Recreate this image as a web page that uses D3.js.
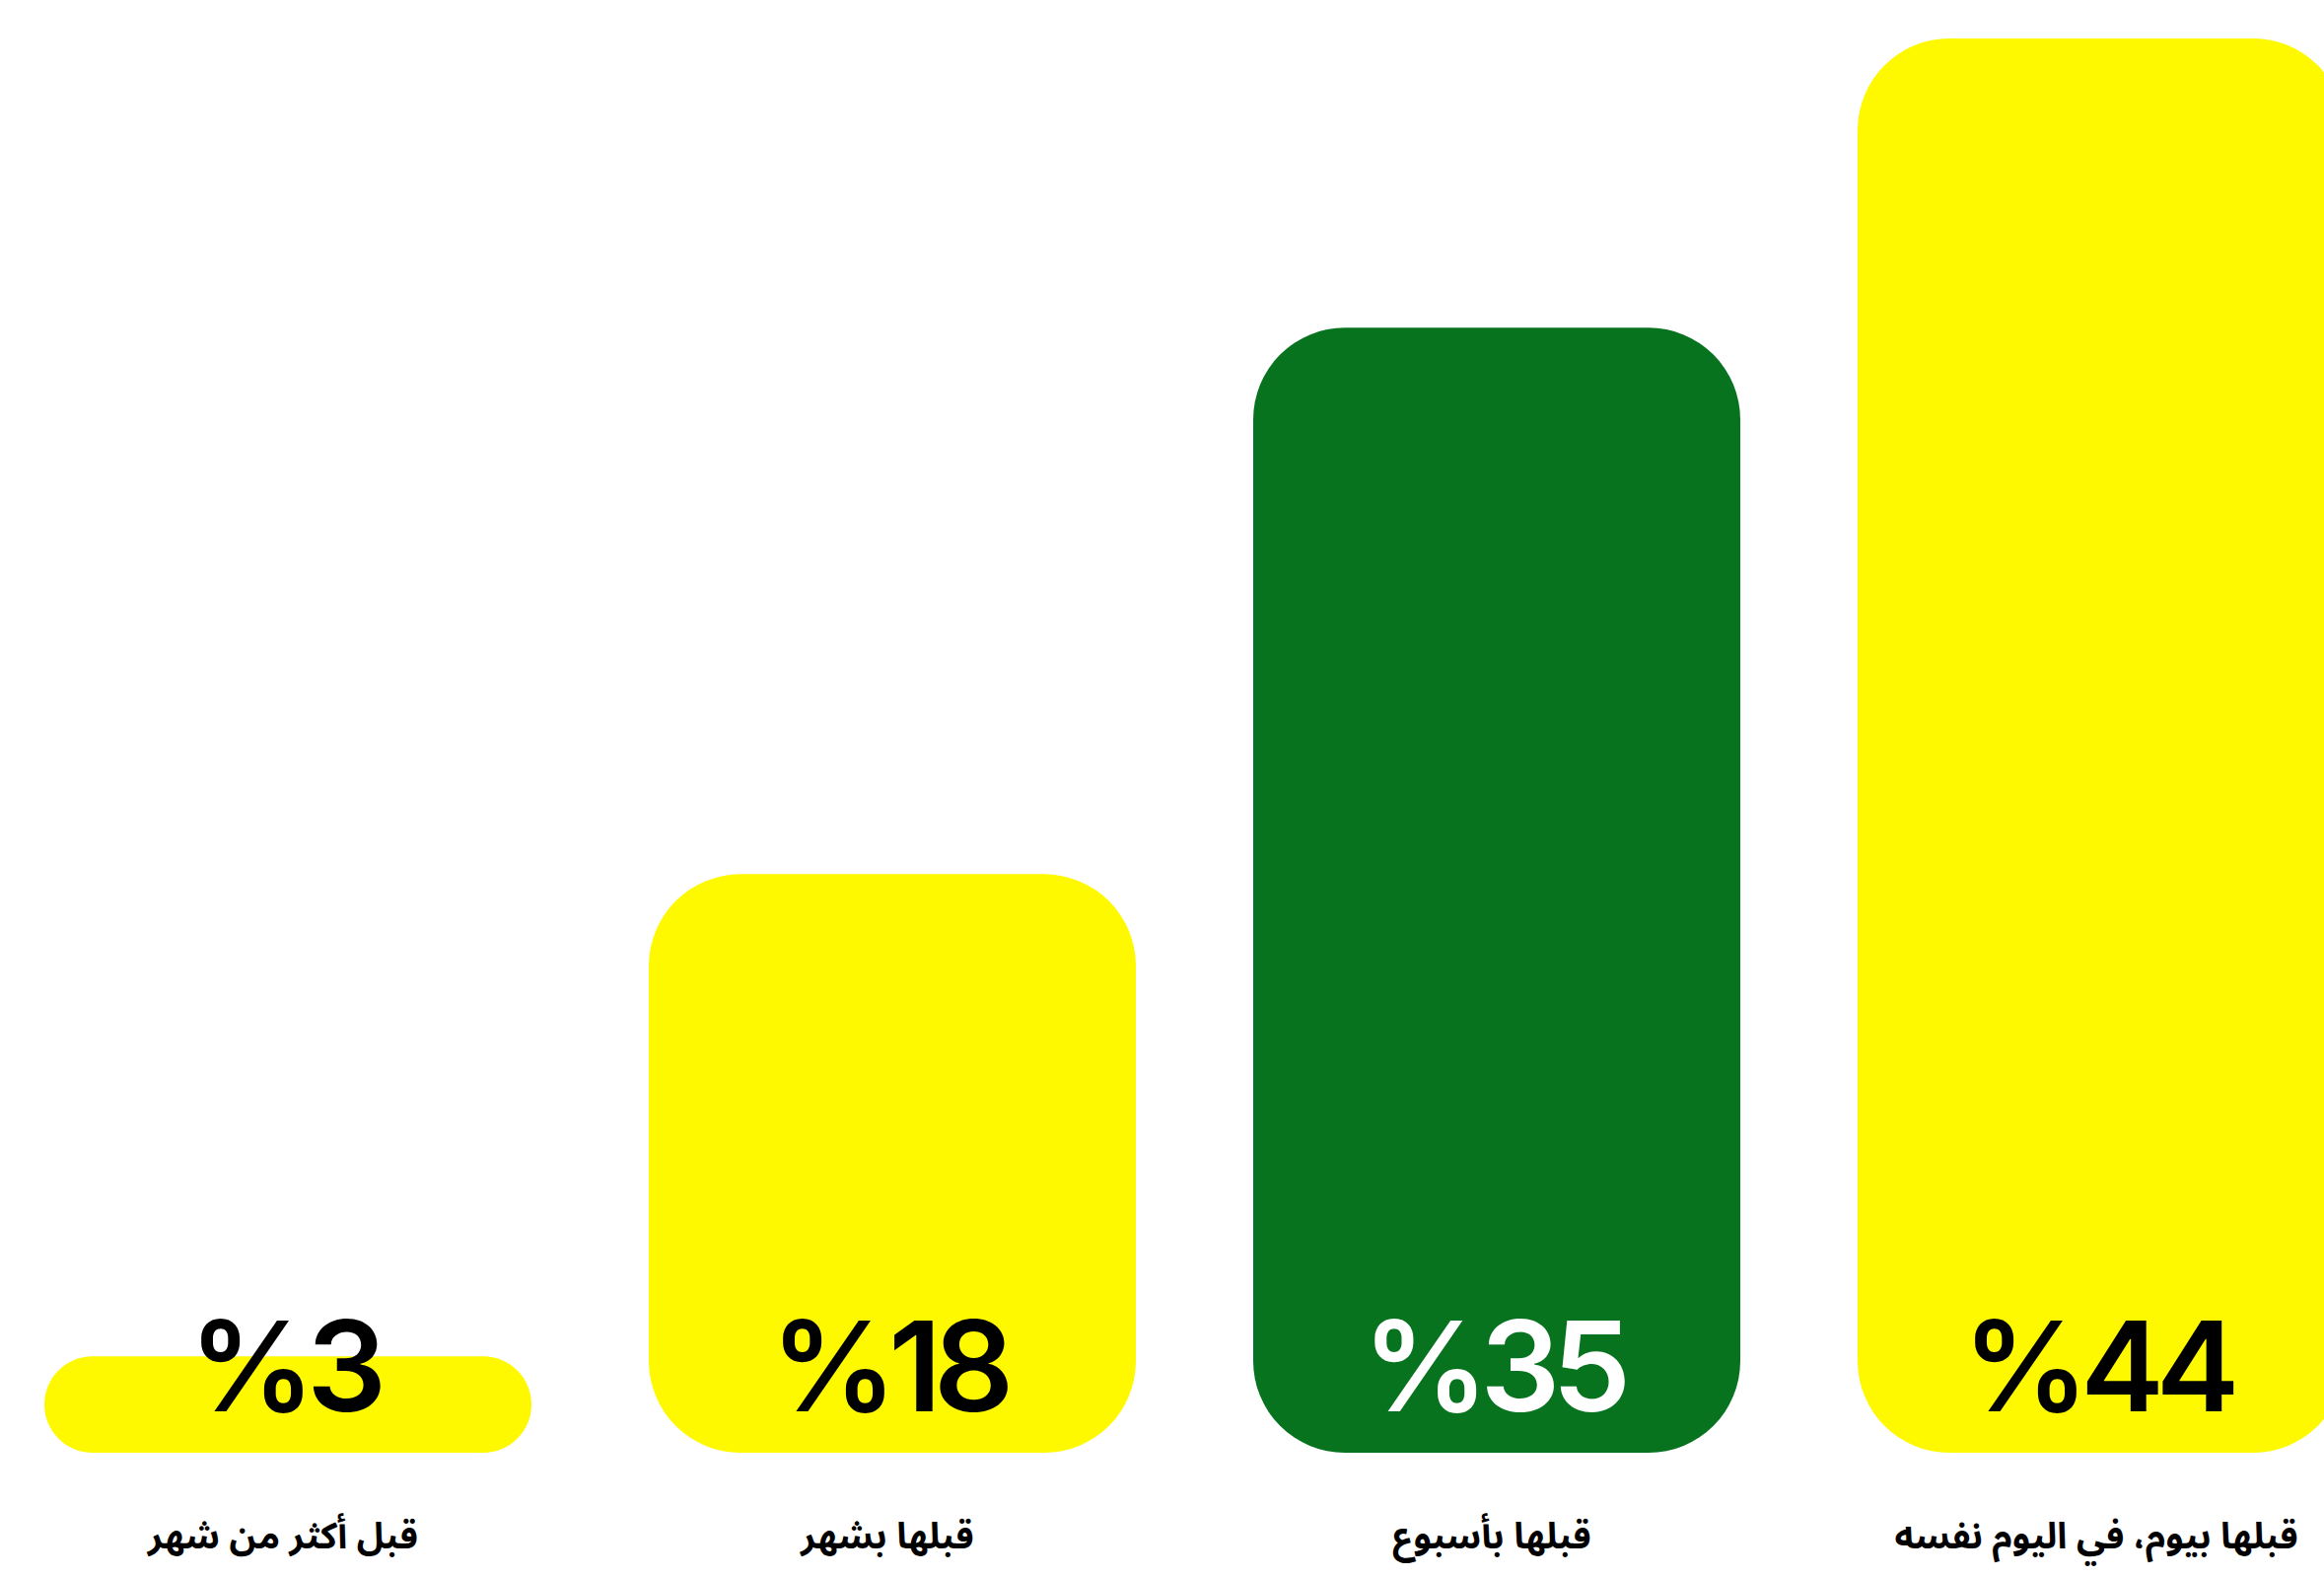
<!DOCTYPE html>
<html>
<head>
<meta charset="utf-8">
<script src="https://cdn.jsdelivr.net/npm/d3@7"></script>
<style>
  html, body { margin: 0; padding: 0; background: #ffffff; overflow: hidden; }
  svg { display: block; }
</style>
</head>
<body>
<svg id="chart" width="2357" height="1599"></svg>
<script>
// Data
const categories = ["قبل أكثر من شهر", "قبلها بشهر", "قبلها بأسبوع", "قبلها بيوم، في اليوم نفسه"];
const values = [3, 18, 35, 44];
const valueLabels = ["%3", "%18", "%35", "%44"];
const barColors = ["#FFF900", "#FFF900", "#07731F", "#FFF900"];
const textColors = ["#000000", "#000000", "#ffffff", "#000000"];

const W = 2357, H = 1599;
const svg = d3.select("#chart");

const x = d3.scaleBand()
  .domain(categories)
  .range([45, 45 + 3 * 613 + 494])
  .paddingInner((613 - 494) / 613)
  .paddingOuter(0);

const baseY = 1473;
const y = d3.scaleLinear().domain([0, 44]).range([baseY, 39]);

const data = categories.map((c, i) => ({ c, v: values[i], label: valueLabels[i], fill: barColors[i], tc: textColors[i] }));

const g = svg.append("g");

g.selectAll("rect.bar")
  .data(data)
  .join("rect")
  .attr("class", "bar")
  .attr("x", d => x(d.c))
  .attr("y", d => y(d.v))
  .attr("width", x.bandwidth())
  .attr("height", d => baseY - y(d.v))
  .attr("rx", d => Math.min(93, (baseY - y(d.v)) / 2))
  .attr("ry", d => Math.min(93, (baseY - y(d.v)) / 2))
  .attr("fill", d => d.fill);

g.selectAll("text.val")
  .data(data)
  .join("text")
  .attr("class", "val")
  .attr("x", d => x(d.c) + x.bandwidth() / 2 - 4)
  .attr("y", baseY - 42)
  .attr("text-anchor", "middle")
  .attr("direction", "ltr")
  .attr("font-family", "Inter, 'Noto Sans', sans-serif")
  .attr("font-weight", 600)
  .attr("font-size", 127)
  .attr("letter-spacing", -8)
  .attr("fill", d => d.tc)
  .text(d => d.label);

g.selectAll("text.cat")
  .data(data)
  .join("text")
  .attr("class", "cat")
  .attr("x", d => x(d.c) + x.bandwidth() / 2 - 5)
  .attr("y", 1570)
  .attr("text-anchor", "middle")
  .attr("font-family", "'Noto Sans Arabic', 'DejaVu Sans', sans-serif")
  .attr("font-weight", 700)
  .attr("font-size", 37)
  .attr("fill", "#000000")
  .text(d => d.c);
</script>
</body>
</html>
